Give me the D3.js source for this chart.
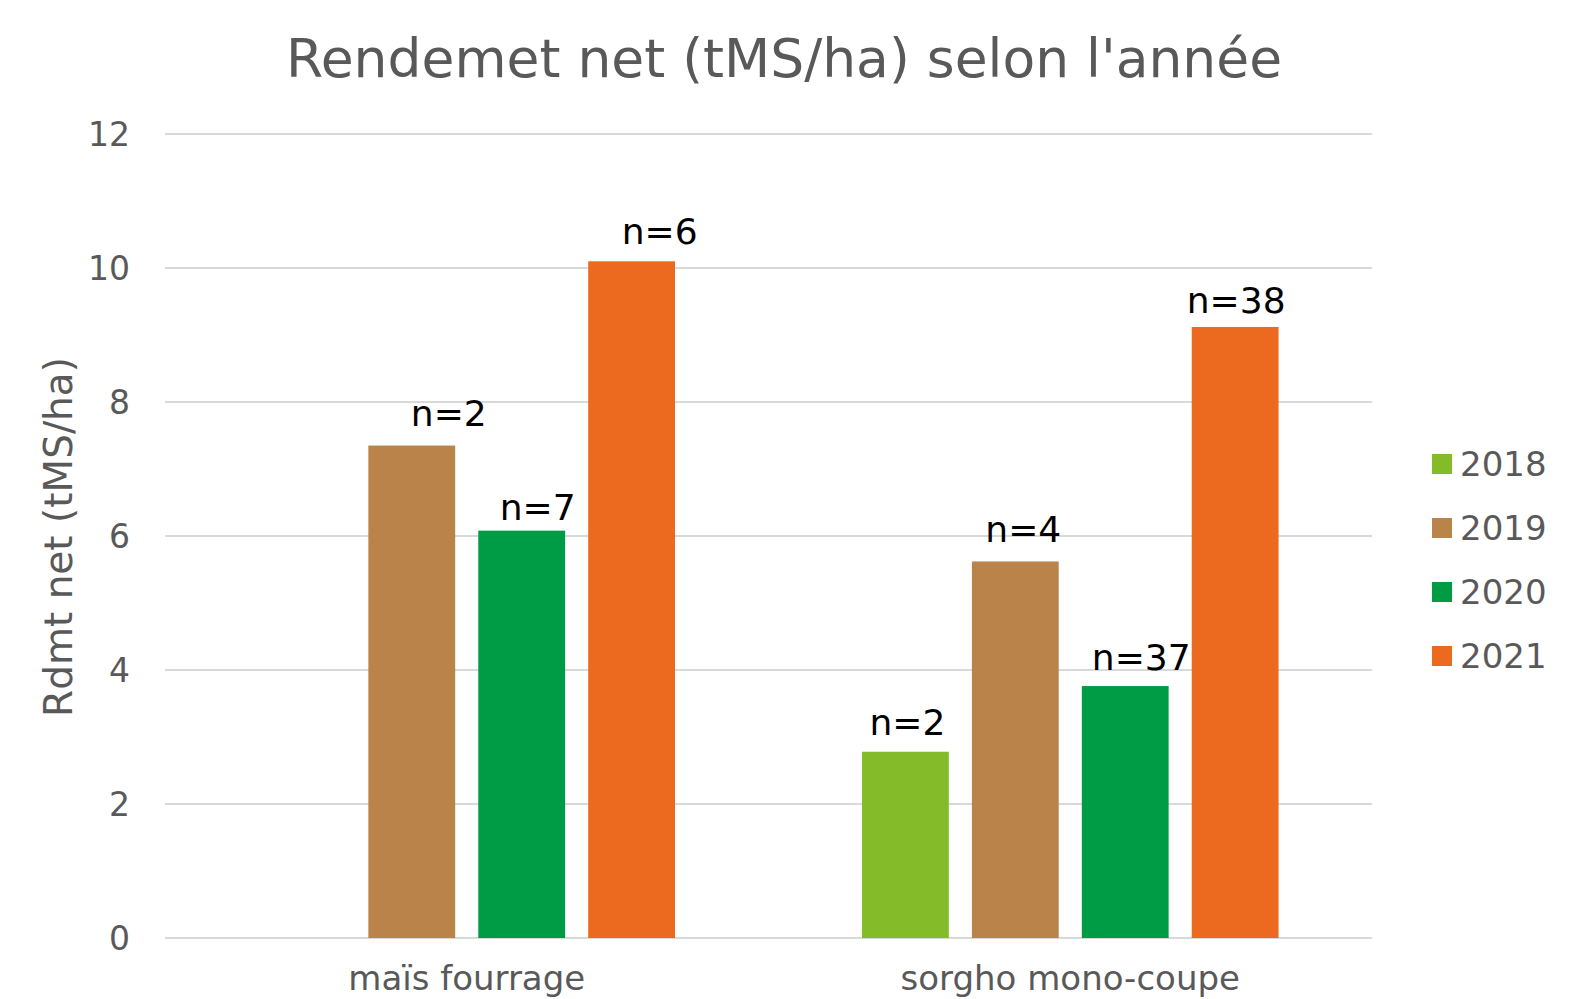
<!DOCTYPE html>
<html>
<head>
<meta charset="utf-8">
<script src="https://cdn.jsdelivr.net/npm/d3@7"></script>
<style>
  body { margin: 0; background: #fff; }
  text { font-family: "DejaVu Sans", Verdana, sans-serif; }
</style>
</head>
<body>
<div id="vis"></div>
<script>
// data
var categories = ["maïs fourrage", "sorgho mono-coupe"];
var years = ["2018", "2019", "2020", "2021"];
var colors = ["#84BB29", "#B9834A", "#009B45", "#EB6A1F"];
// values per category, one per year (null = no bar)
var maisValues = [null, 7.35, 6.08, 10.1];
var sorghoValues = [2.78, 5.62, 3.76, 9.12];
var maisCounts = [null, "n=2", "n=7", "n=6"];
var sorghoCounts = ["n=2", "n=4", "n=37", "n=38"];
var yTicks = [0, 2, 4, 6, 8, 10, 12];

// hand-placed label offsets (like in the original sheet)
var labelNudge = [
  [[0, 0], [37, -4], [16, 5], [28, -1]],
  [[2, -1], [8, -3], [16, 0], [1, 2]]
];

var width = 1596, height = 999;
var margin = {top : 134, left : 165, right : 224, bottom : 61};
var plotW = width - margin.left - margin.right;
var plotH = height - margin.top - margin.bottom;

var svg = d3.select("#vis")
    .append("svg")
    .attr("width", width)
    .attr("height", height)

var g = svg.append("g")
    .attr("transform", "translate(" + margin.left + "," + margin.top + ")")

var x0 = d3.scaleBand()
    .domain(categories)
    .range([0, plotW])
    .paddingInner(0.2715)
    .paddingOuter(0.1357)

var x1 = d3.scaleBand()
    .domain(years)
    .range([0, x0.bandwidth()])
    .paddingInner(0.21)
    .paddingOuter(0.105)

var y = d3.scaleLinear()
    .domain([0, 12])
    .range([plotH, 0])

var color = d3.scaleOrdinal().domain(years).range(colors)

// gridlines
g.selectAll(".grid")
  .data(yTicks)
  .join("line")
    .attr("x1", 0)
    .attr("x2", plotW)
    .attr("y1", d => y(d))
    .attr("y2", d => y(d))
    .attr("stroke", "#D9D9D9")
    .attr("stroke-width", 2)

// y tick labels
g.selectAll(".ytick")
  .data(yTicks)
  .join("text")
    .attr("x", -35)
    .attr("y", d => y(d))
    .attr("dy", "0.36em")
    .attr("text-anchor", "end")
    .attr("fill", "#595959")
    .style("font-size", "33px")
    .text(d => d)

var rows = categories.map((c, i) => ({
  cat: c,
  values: i == 0 ? maisValues : sorghoValues,
  counts: i == 0 ? maisCounts : sorghoCounts,
  nudge: labelNudge[i]
}))

var groups = g.selectAll(".group")
  .data(rows)
  .join("g")
    .attr("transform", d => "translate(" + x0(d.cat) + ",0)")

var cells = d => years.map((yr, j) => ({
    year: yr, value: d.values[j], count: d.counts[j], nudge: d.nudge[j]
  })).filter(e => e.value != null)

groups.selectAll("rect")
  .data(cells)
  .join("rect")
    .attr("x", d => x1(d.year))
    .attr("width", x1.bandwidth())
    .attr("y", d => y(d.value))
    .attr("height", d => plotH - y(d.value))
    .attr("fill", d => color(d.year))

groups.selectAll(".nlabel")
  .data(cells)
  .join("text")
    .attr("x", d => x1(d.year) + x1.bandwidth() / 2 + d.nudge[0])
    .attr("y", d => y(d.value) - 16 + d.nudge[1])
    .attr("text-anchor", "middle")
    .attr("fill", "#000")
    .style("font-size", "36px")
    .text(d => d.count)

// category labels (sit at the very bottom edge, as in the original)
g.selectAll(".xlabel")
  .data(categories)
  .join("text")
    .attr("x", d => x0(d) + x0.bandwidth() / 2)
    .attr("y", plotH + 52)
    .attr("text-anchor", "middle")
    .attr("fill", "#595959")
    .style("font-size", "34px")
    .text(d => d)

// y axis title
svg.append("text")
    .attr("transform", "translate(72,537) rotate(-90)")
    .attr("text-anchor", "middle")
    .attr("fill", "#595959")
    .style("font-size", "39px")
    .text("Rdmt net (tMS/ha)")

// chart title
svg.append("text")
    .attr("x", 784)
    .attr("y", 77)
    .attr("text-anchor", "middle")
    .attr("fill", "#595959")
    .style("font-size", "53.5px")
    .text("Rendemet net (tMS/ha) selon l'année")

// legend
var legend = svg.append("g")
    .attr("transform", "translate(1432,464)")

var items = legend.selectAll("g")
  .data(years)
  .join("g")
    .attr("transform", (d, i) => "translate(0," + i * 64 + ")")

items.append("rect")
    .attr("x", 0)
    .attr("y", -10)
    .attr("width", 20)
    .attr("height", 20)
    .attr("fill", d => color(d))

items.append("text")
    .attr("x", 28)
    .attr("y", 0)
    .attr("dy", "0.36em")
    .attr("fill", "#595959")
    .style("font-size", "34px")
    .text(d => d)
</script>
</body>
</html>
